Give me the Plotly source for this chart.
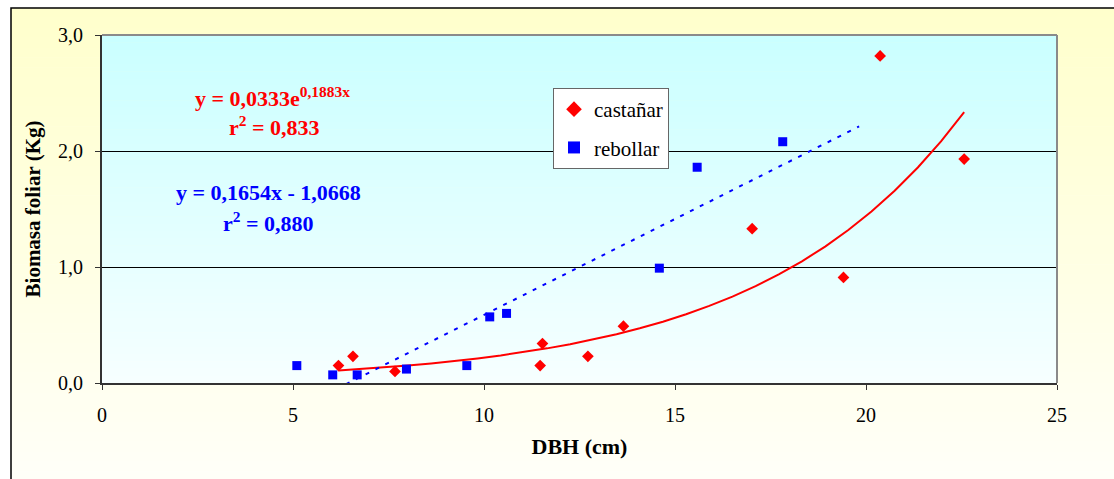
import numpy as np
import plotly.graph_objects as go

# Foliar biomass vs. DBH for two stand types
castanar_dbh = [6.19, 6.57, 7.67, 11.47, 11.53, 12.72, 13.65, 17.02, 19.41, 20.37, 22.57]
castanar_bio = [0.15, 0.23, 0.10, 0.15, 0.34, 0.23, 0.49, 1.33, 0.91, 2.82, 1.93]

rebollar_dbh = [5.10, 6.04, 6.68, 7.97, 9.55, 10.15, 10.59, 14.59, 15.58, 17.82]
rebollar_bio = [0.15, 0.07, 0.07, 0.12, 0.15, 0.57, 0.60, 0.99, 1.86, 2.08]

# Fitted trendline coefficients
exp_a, exp_b = 0.0333, 0.1883   # castañar: y = a*e^(b x)
lin_m, lin_c = 0.1654, -1.0668  # rebollar: y = m x + c
lin_forward = 2.0               # forward forecast of the linear trend

x_ticks = [0, 5, 10, 15, 20, 25]
y_ticks = [0, 1, 2, 3]
y_ticktext = ["0,0", "1,0", "2,0", "3,0"]

W, H = 1114, 479
L, R, T, B = 102, 57, 35, 96
PW, PH = W - L - R, H - T - B

def px_x(p):
    return (p - L) / PW

def px_y(p):
    return (H - B - p) / PH

def mix(c0, c1, t):
    return "rgb(%d,%d,%d)" % tuple(round(a + (b - a) * t) for a, b in zip(c0, c1))

shapes = []

# chart area: pale yellow vertical gradient
n = 48
top_px, bot_px = 8, H + 2
for i in range(n):
    y0p = top_px + (bot_px - top_px) * i / n
    y1p = top_px + (bot_px - top_px) * (i + 1) / n + 0.6
    shapes.append(dict(type="rect", xref="paper", yref="paper", layer="below",
                       x0=px_x(11), x1=px_x(W + 5), y0=px_y(y1p), y1=px_y(y0p),
                       line=dict(width=0),
                       fillcolor=mix((255, 255, 204), (255, 255, 248), i / (n - 1))))
# plot area: pale cyan vertical gradient
for i in range(n):
    y0p = T + PH * i / n
    y1p = T + PH * (i + 1) / n + 0.6
    shapes.append(dict(type="rect", xref="paper", yref="paper", layer="below",
                       x0=0, x1=1, y0=px_y(min(y1p, H - B)), y1=px_y(y0p),
                       line=dict(width=0),
                       fillcolor=mix((202, 255, 255), (246, 255, 255), i / (n - 1))))
# chart area frame (left and top edges visible)
shapes.append(dict(type="rect", xref="paper", yref="paper", layer="above",
                   x0=px_x(11), x1=px_x(W + 10), y0=px_y(H + 10), y1=px_y(8),
                   line=dict(color="black", width=1.5)))
# plot area frame: grey top and right
shapes.append(dict(type="line", xref="paper", yref="paper", layer="above",
                   x0=0, x1=1, y0=1, y1=1, line=dict(color="#8a8a8a", width=2)))
shapes.append(dict(type="line", xref="paper", yref="paper", layer="above",
                   x0=1, x1=1, y0=0, y1=1, line=dict(color="#8a8a8a", width=2)))

fig = go.Figure()

# trendlines
xe = np.linspace(min(castanar_dbh), max(castanar_dbh), 28)
fig.add_trace(go.Scatter(x=xe, y=exp_a * np.exp(exp_b * xe), mode="lines",
                         line=dict(color="#ff0000", width=2),
                         showlegend=False, hoverinfo="skip"))
xl = np.array([min(rebollar_dbh), max(rebollar_dbh) + lin_forward])
fig.add_trace(go.Scatter(x=xl, y=lin_m * xl + lin_c, mode="lines",
                         line=dict(color="#0000ff", width=2, dash="4px,7px"),
                         showlegend=False, hoverinfo="skip"))

# data points
fig.add_trace(go.Scatter(x=castanar_dbh, y=castanar_bio, mode="markers", name="castañar",
                         legendgroup="a",
                         marker=dict(symbol="diamond", size=9, color="#ff0000",
                                     line=dict(width=0))))
fig.add_trace(go.Scatter(x=rebollar_dbh, y=rebollar_bio, mode="markers", name="rebollar",
                         legendgroup="b",
                         marker=dict(symbol="square", size=9, color="#0000ff",
                                     line=dict(width=0))))

serif = "Liberation Serif"
eq_font_r = dict(family=serif, size=22, color="#ff0000")
eq_font_b = dict(family=serif, size=22, color="#0000ff")

def eq(text, cx, cy, font):
    return dict(text=text, x=px_x(cx), y=px_y(cy), xref="paper", yref="paper",
                xanchor="center", yanchor="middle", showarrow=False, font=font)

annotations = [
    eq("<b>y = 0,0333e<sup>0,1883x</sup></b>", 272, 97, eq_font_r),
    eq("<b>r<sup>2</sup> = 0,833</b>", 274, 126, eq_font_r),
    eq("<b>y = 0,1654x - 1,0668</b>", 268, 193, eq_font_b),
    eq("<b>r<sup>2</sup> = 0,880</b>", 268, 222, eq_font_b),
]

fig.update_layout(
    width=W, height=H,
    margin=dict(l=L, r=R, t=T, b=B),
    paper_bgcolor="white",
    plot_bgcolor="rgba(0,0,0,0)",
    font=dict(family=serif, size=20, color="black"),
    shapes=shapes,
    annotations=annotations,
    legend=dict(x=px_x(553), y=px_y(88), xanchor="left", yanchor="top",
                bgcolor="white", bordercolor="#666666", borderwidth=1,
                font=dict(family=serif, size=21, color="black"),
                tracegroupgap=8, itemsizing="constant", itemwidth=30),
    xaxis=dict(range=[0, 25], tickvals=x_ticks, ticktext=[str(v) for v in x_ticks],
               showgrid=False, zeroline=False, showline=True, linecolor="#333333",
               linewidth=2, ticks="outside", ticklen=5, tickcolor="#333333",
               ticklabelstandoff=8, tickfont=dict(family=serif, size=20),
               title=dict(text="<b>DBH (cm)</b>", font=dict(family=serif, size=22),
                          standoff=14)),
    yaxis=dict(range=[0, 3], tickvals=y_ticks, ticktext=y_ticktext,
               showgrid=True, gridcolor="black", gridwidth=1, zeroline=False,
               showline=True, linecolor="#333333", linewidth=2,
               ticks="outside", ticklen=5, tickcolor="#333333",
               ticklabelstandoff=8, tickfont=dict(family=serif, size=20),
               title=dict(text="<b>Biomasa foliar (Kg)</b>",
                          font=dict(family=serif, size=21), standoff=12)),
)

fig.write_html("out.html")
